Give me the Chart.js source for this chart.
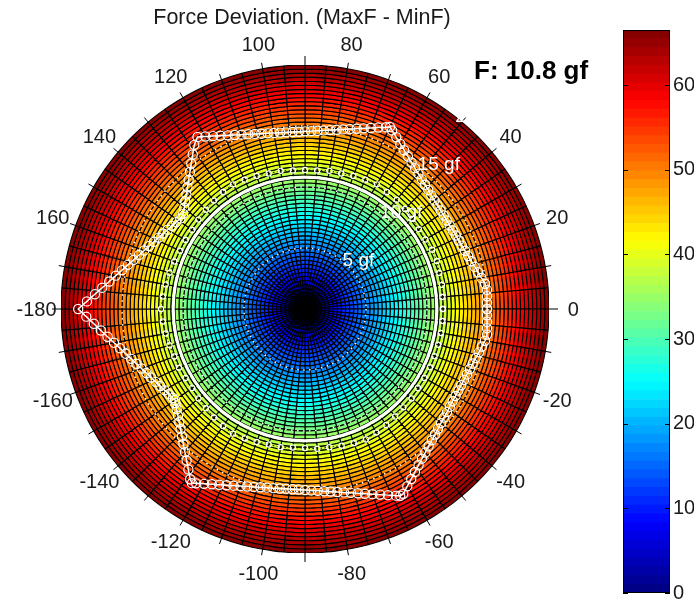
<!DOCTYPE html>
<html>
<head>
<meta charset="utf-8">
<script src="https://cdn.jsdelivr.net/npm/chart.js@4.4.1/dist/chart.umd.min.js"></script>
<style>
  html, body { margin: 0; padding: 0; background: #fff; }
  #wrap { position: relative; width: 696px; height: 608px; overflow: hidden; }
  canvas { position: absolute; }
  #mesh { left: 61px; top: 65px; }
  #overlay { left: 0; top: 0; }
  #cbar { left: 590px; top: 0; }
</style>
</head>
<body>
<div id="wrap">
  <canvas id="mesh" width="488" height="488"></canvas>
  <canvas id="overlay" width="696" height="608"></canvas>
  <canvas id="cbar" width="106" height="608"></canvas>
</div>
<script>
// ---- values ----
const rMax = 20;                 // outer radius of the polar axes, gf
const meanForce = 10.8;          // F, gf
const forceRings = [5, 10, 15, 20];
const angleTicks = [0, 20, 40, 60, 80, 100, 120, 140, 160, 180, 200, 220, 240, 260, 280, 300, 320, 340];
const colorMax = 66.5;
const colorTicks = [0, 10, 20, 30, 40, 50, 60];

// force deviation (gf) measured around the rotor, angle in degrees
const starAngles = [0, 2, 4, 6, 8, 10, 12, 14, 16, 18, 20, 22, 24, 26, 28, 30, 32, 34, 36, 38,
  40, 42, 44, 46, 48, 50, 52, 54, 56, 58, 60, 62, 64, 65, 66, 68, 70, 72, 74, 76,
  78, 80, 82, 84, 86, 88, 90, 92, 94, 96, 98, 100, 102, 104, 106, 108, 110, 112, 114, 116,
  118, 120, 122, 124, 126, 128, 130, 132, 134, 136, 138, 140, 142, 144, 146, 148, 150, 152, 154, 156,
  158, 160, 162, 164, 166, 168, 170, 172, 174, 176, 178, 180, 182, 184, 186, 188, 190, 192, 194, 196,
  198, 200, 202, 204, 206, 208, 210, 212, 214, 215, 216, 218, 220, 222, 224, 226, 228, 230, 232, 234, 236,
  237, 238, 240, 242, 244, 246, 248, 250, 252, 254, 256, 258, 260, 262, 264, 266, 268, 270, 272, 274,
  276, 278, 280, 282, 284, 286, 288, 290, 292, 294, 296, 297, 298, 300, 302, 304, 306, 308, 310, 312,
  314, 316, 318, 320, 322, 324, 326, 328, 330, 332, 334, 336, 338, 340, 342, 344, 346, 348, 350, 352,
  354, 356, 358];
const starForce = [14.92, 14.93, 14.96, 15.00, 14.90, 14.68, 14.50, 14.33, 14.19, 14.06, 13.96, 13.87, 13.80, 13.75, 13.71, 13.69, 13.69, 13.71, 13.74, 13.79,
  13.85, 13.94, 14.04, 14.16, 14.30, 14.46, 14.65, 14.85, 15.08, 15.34, 15.62, 15.94, 16.29, 16.47, 16.31, 16.04, 15.79, 15.57, 15.37, 15.20,
  15.05, 14.92, 14.81, 14.72, 14.65, 14.59, 14.56, 14.54, 14.54, 14.56, 14.60, 14.65, 14.72, 14.81, 14.93, 15.06, 15.21, 15.38, 15.58, 15.80,
  16.05, 16.33, 16.63, 16.23, 15.66, 15.14, 14.67, 14.25, 13.87, 13.52, 13.21, 12.92, 12.67, 12.63, 12.74, 12.86, 13.00, 13.17, 13.35, 13.55,
  13.78, 14.03, 14.31, 14.62, 14.96, 15.33, 15.75, 16.20, 16.71, 17.27, 17.89, 18.59, 17.94, 17.35, 16.82, 16.34, 15.90, 15.50, 15.14, 14.82,
  14.53, 14.26, 14.02, 13.81, 13.62, 13.45, 13.30, 13.17, 13.05, 13.00, 13.12, 13.35, 13.60, 13.87, 14.18, 14.52, 14.89, 15.31, 15.76, 16.27, 16.83,
  17.02, 16.85, 16.55, 16.27, 16.03, 15.81, 15.62, 15.45, 15.30, 15.17, 15.06, 14.97, 14.91, 14.86, 14.82, 14.81, 14.81, 14.84, 14.88, 14.94,
  15.02, 15.11, 15.23, 15.37, 15.53, 15.71, 15.92, 16.15, 16.41, 16.70, 17.02, 17.19, 17.16, 16.77, 16.43, 16.11, 15.83, 15.57, 15.35, 15.14,
  14.96, 14.81, 14.67, 14.55, 14.46, 14.38, 14.32, 14.27, 14.25, 14.24, 14.25, 14.28, 14.32, 14.38, 14.46, 14.56, 14.68, 14.82, 14.98, 15.07,
  15.00, 14.96, 14.93];

// inner trace just outside the mean circle (gf)
const innerAngles = [0, 5, 10, 15, 20, 25, 30, 35, 40, 45, 50, 55, 60, 65, 70, 75, 80, 85, 90, 95, 100, 105, 110, 115,
  120, 125, 130, 135, 140, 145, 150, 155, 160, 165, 170, 175, 180, 185, 190, 195, 200, 205, 210, 215, 220, 225, 230, 235,
  240, 245, 250, 255, 260, 265, 270, 275, 280, 285, 290, 295, 300, 305, 310, 315, 320, 325, 330, 335, 340, 345, 350, 355];
const innerForce = [11.3, 11.3, 11.4, 11.4, 11.5, 11.5, 11.4, 11.4, 11.5, 11.6, 11.7, 11.7, 11.8, 11.7, 11.6, 11.5, 11.5, 11.4, 11.4, 11.4, 11.5, 11.5, 11.6, 11.7,
  11.8, 11.7, 11.6, 11.5, 11.4, 11.3, 11.3, 11.3, 11.4, 11.5, 11.6, 11.7, 11.8, 11.7, 11.6, 11.5, 11.4, 11.4, 11.3, 11.3, 11.4, 11.5, 11.6, 11.7,
  11.8, 11.7, 11.6, 11.5, 11.5, 11.4, 11.4, 11.5, 11.5, 11.6, 11.7, 11.8, 11.7, 11.6, 11.5, 11.4, 11.4, 11.3, 11.3, 11.3, 11.3, 11.3, 11.3, 11.3];

// polar surface mesh: spoke angles and colour level of each ring (centre outwards)
const meshAngles = [0, 5, 10, 15, 20, 25, 30, 35, 40, 45, 50, 55, 60, 65, 70, 75, 80, 85, 90, 95, 100, 105, 110, 115,
  120, 125, 130, 135, 140, 145, 150, 155, 160, 165, 170, 175, 180, 185, 190, 195, 200, 205, 210, 215, 220, 225, 230, 235,
  240, 245, 250, 255, 260, 265, 270, 275, 280, 285, 290, 295, 300, 305, 310, 315, 320, 325, 330, 335, 340, 345, 350, 355];
const shadeLevels = [0.55, 1.66, 2.77, 3.87, 4.98, 6.09, 7.19, 8.30, 9.41, 10.51, 11.62, 12.73, 13.83, 14.94, 16.05,
  17.15, 18.26, 19.37, 20.47, 21.58, 22.69, 23.79, 24.90, 26.01, 27.11, 28.22, 29.33, 30.43, 31.54, 32.65,
  33.75, 34.86, 35.97, 37.07, 38.18, 39.29, 40.39, 41.50, 42.61, 43.71, 44.82, 45.93, 47.03, 48.14, 49.25,
  50.35, 51.46, 52.57, 53.67, 54.78, 55.89, 56.99, 58.10, 59.21, 60.31, 61.42, 62.53, 63.63, 64.74, 65.85];
const colorBandCount = 64;

// ---- helpers ----
const FONT = '"Liberation Sans", Arial, Helvetica, sans-serif';
function jet(t) {
  const c = v => Math.round(255 * Math.max(0, Math.min(1, v)));
  return `rgb(${c(1.5 - Math.abs(4 * t - 3))},${c(1.5 - Math.abs(4 * t - 2))},${c(1.5 - Math.abs(4 * t - 1))})`;
}
const deg = Math.PI / 180;
const toXY = (angles, values) => {
  const pts = angles.map((a, i) => ({ x: values[i] * Math.cos(a * deg), y: values[i] * Math.sin(a * deg) }));
  pts.push(pts[0]);
  return pts;
};

// ---- coloured polar mesh (rings of a doughnut, outermost dataset first) ----
const sliceWidths = meshAngles.map((a, i) => (i + 1 < meshAngles.length ? meshAngles[i + 1] : 360) - a);
const meshDatasets = shadeLevels.slice().reverse().map(level => ({
  data: sliceWidths,
  backgroundColor: jet(level / colorMax),
  borderColor: '#000',
  borderWidth: 1.1
}));
new Chart(document.getElementById('mesh'), {
  type: 'doughnut',
  data: { labels: meshAngles.map(String), datasets: meshDatasets },
  options: {
    responsive: false, animation: false, events: [],
    radius: 244, cutout: 0,
    layout: { padding: 0 },
    plugins: { legend: { display: false }, tooltip: { enabled: false } }
  }
});

// ---- overlay: force curves, grid circles, labels ----
const polarDecor = {
  id: 'polarDecor',
  beforeDatasetsDraw(chart) {
    const { ctx, scales: { x, y } } = chart;
    const cx = x.getPixelForValue(0), cy = y.getPixelForValue(0);
    const rad = v => x.getPixelForValue(v) - cx;
    ctx.save();
    // dotted grid circles
    ctx.strokeStyle = '#fff';
    ctx.lineWidth = 1.5;
    ctx.setLineDash([1.5, 4.5]);
    forceRings.filter(r => r < rMax).forEach(r => {
      ctx.beginPath(); ctx.arc(cx, cy, rad(r), 0, 2 * Math.PI); ctx.stroke();
    });
    ctx.setLineDash([]);
    // mean force circle
    ctx.lineWidth = 3;
    ctx.beginPath(); ctx.arc(cx, cy, rad(meanForce), 0, 2 * Math.PI); ctx.stroke();
    // tick marks on the rim
    ctx.strokeStyle = '#000';
    ctx.lineWidth = 1;
    for (let a = 0; a < 360; a += 10) {
      const r0 = rad(rMax), r1 = r0 + (a % 90 === 0 ? 9 : 6);
      ctx.beginPath();
      ctx.moveTo(cx + r0 * Math.cos(a * deg), cy - r0 * Math.sin(a * deg));
      ctx.lineTo(cx + r1 * Math.cos(a * deg), cy - r1 * Math.sin(a * deg));
      ctx.stroke();
    }
    // radial labels
    ctx.fillStyle = '#fff';
    ctx.font = '19px ' + FONT;
    ctx.textAlign = 'left';
    ctx.textBaseline = 'middle';
    const t = 52 * deg;
    forceRings.forEach(r => {
      ctx.fillText(r + ' gf', x.getPixelForValue(r * Math.cos(t)), y.getPixelForValue(r * Math.sin(t)));
    });
    ctx.restore();
  },
  afterDraw(chart) {
    const { ctx, scales: { x, y } } = chart;
    ctx.save();
    ctx.fillStyle = '#1a1a1a';
    ctx.font = '20px ' + FONT;
    ctx.textAlign = 'center';
    ctx.textBaseline = 'middle';
    const lr = rMax * 1.1;
    angleTicks.forEach(a => {
      const txt = String(a < 180 ? a : a - 360);
      ctx.fillText(txt, x.getPixelForValue(lr * Math.cos(a * deg)), y.getPixelForValue(lr * Math.sin(a * deg)) + 1);
    });
    ctx.font = '21.5px ' + FONT;
    ctx.fillText('Force Deviation. (MaxF - MinF)', 302, 18);
    ctx.fillStyle = '#000';
    ctx.font = 'bold 26px ' + FONT;
    ctx.textAlign = 'left';
    ctx.fillText('F: ' + meanForce + ' gf', 474, 72);
    ctx.restore();
  }
};

new Chart(document.getElementById('overlay'), {
  type: 'scatter',
  data: {
    datasets: [{
      data: toXY(innerAngles, innerForce),
      showLine: true,
      borderColor: '#000',
      borderWidth: 1,
      borderDash: [1.5, 2.5],
      pointRadius: 2.6,
      pointStyle: 'circle',
      pointBorderColor: '#fff',
      pointBackgroundColor: 'rgba(0,0,0,0)',
      pointBorderWidth: 1.2,
      tension: 0,
      clip: false
    }, {
      data: toXY(starAngles, starForce),
      showLine: true,
      borderColor: '#fff',
      borderWidth: 1.5,
      pointRadius: 4.6,
      pointStyle: 'circle',
      pointBorderColor: '#fff',
      pointBackgroundColor: 'rgba(0,0,0,0)',
      pointBorderWidth: 1.2,
      tension: 0,
      clip: false
    }]
  },
  options: {
    responsive: false, animation: false, events: [],
    layout: { padding: { left: 61, top: 65, right: 147, bottom: 55 } },
    scales: {
      x: { type: 'linear', display: false, min: -rMax, max: rMax },
      y: { type: 'linear', display: false, min: -rMax, max: rMax }
    },
    plugins: { legend: { display: false }, tooltip: { enabled: false } }
  },
  plugins: [polarDecor]
});

// ---- colour bar ----
const bandDatasets = [];
for (let k = 0; k < colorBandCount; k++) {
  bandDatasets.push({
    data: [colorMax / colorBandCount],
    backgroundColor: jet((k + 0.5) / colorBandCount),
    borderWidth: 0,
    barPercentage: 1,
    categoryPercentage: 1
  });
}
const barFrame = {
  id: 'barFrame',
  afterDraw(chart) {
    const { ctx, chartArea: a, scales: { y } } = chart;
    ctx.save();
    ctx.strokeStyle = '#000';
    ctx.lineWidth = 1;
    ctx.strokeRect(a.left + 0.5, a.top + 0.5, a.right - a.left - 1, a.bottom - a.top - 1);
    colorTicks.forEach(v => {
      const py = Math.round(y.getPixelForValue(v)) + 0.5;
      ctx.beginPath();
      ctx.moveTo(a.left, py); ctx.lineTo(a.left + 5, py);
      ctx.moveTo(a.right - 5, py); ctx.lineTo(a.right, py);
      ctx.stroke();
    });
    ctx.restore();
  }
};
new Chart(document.getElementById('cbar'), {
  type: 'bar',
  data: { labels: [''], datasets: bandDatasets },
  options: {
    responsive: false, animation: false, events: [],
    layout: { padding: { left: 33, right: 2, top: 30, bottom: 14 } },
    scales: {
      x: { display: false, stacked: true },
      y: {
        stacked: true, position: 'right', min: 0, max: colorMax,
        afterFit(s) { s.width = 24; },
        afterBuildTicks(s) { s.ticks = colorTicks.map(v => ({ value: v })); },
        grid: { display: false, drawTicks: false },
        border: { display: false },
        ticks: { padding: 3, color: '#1a1a1a', font: { size: 20, family: FONT } }
      }
    },
    plugins: { legend: { display: false }, tooltip: { enabled: false } }
  },
  plugins: [barFrame]
});
</script>
</body>
</html>
